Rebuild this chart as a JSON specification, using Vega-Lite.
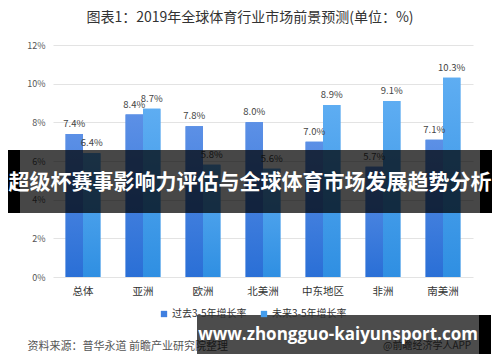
{
  "$schema": "https://vega.github.io/schema/vega-lite/v6.json",
  "width": 420,
  "height": 232,
  "autosize": {"type": "none"},
  "padding": {"left": 53, "top": 45, "right": 27, "bottom": 85},
  "background": "white",
  "config": {
    "font": "Noto Sans CJK SC",
    "view": {"stroke": null},
    "title": {"fontSize": 14, "fontWeight": "normal", "color": "#333333", "offset": 16, "dx": -13}
  },
  "title": "图表1：2019年全球体育行业市场前景预测(单位：%)",
  "data": {
    "values": [
      {"region": "总体", "series": "过去3-5年增长率", "value": 0.074},
      {"region": "总体", "series": "未来3-5年增长率", "value": 0.064},
      {"region": "亚洲", "series": "过去3-5年增长率", "value": 0.084},
      {"region": "亚洲", "series": "未来3-5年增长率", "value": 0.087},
      {"region": "欧洲", "series": "过去3-5年增长率", "value": 0.078},
      {"region": "欧洲", "series": "未来3-5年增长率", "value": 0.058},
      {"region": "北美洲", "series": "过去3-5年增长率", "value": 0.080},
      {"region": "北美洲", "series": "未来3-5年增长率", "value": 0.056},
      {"region": "中东地区", "series": "过去3-5年增长率", "value": 0.070},
      {"region": "中东地区", "series": "未来3-5年增长率", "value": 0.089},
      {"region": "非洲", "series": "过去3-5年增长率", "value": 0.057},
      {"region": "非洲", "series": "未来3-5年增长率", "value": 0.091},
      {"region": "南美洲", "series": "过去3-5年增长率", "value": 0.071},
      {"region": "南美洲", "series": "未来3-5年增长率", "value": 0.103}
    ]
  },
  "layer": [
    {
      "mark": {"type": "bar"},
      "encoding": {
        "x": {
          "field": "region", "type": "nominal", "sort": null,
          "scale": {"paddingInner": 0.42, "paddingOuter": 0.21},
          "axis": {
            "title": "资料来源：普华永道 前瞻产业研究院整理",
            "titleFontSize": 11, "titleFontWeight": "normal", "titleColor": "#555555",
            "titleX": -26, "titleY": 69, "titleAlign": "left", "titleAnchor": "start", "titleBaseline": "middle",
            "labelAngle": 0, "labelFontSize": 10.5, "labelColor": "#333333", "labelPadding": 9,
            "domain": false, "ticks": false
          }
        },
        "xOffset": {"field": "series", "type": "nominal", "scale": {"domain": ["过去3-5年增长率", "未来3-5年增长率"], "paddingInner": 0}},
        "y": {
          "field": "value", "type": "quantitative",
          "scale": {"domain": [0, 0.12], "nice": false},
          "axis": {
            "title": null, "values": [0, 0.02, 0.04, 0.06, 0.08, 0.1, 0.12], "tickCount": 7, "format": ".0%",
            "labelFontSize": 9, "labelColor": "#555555", "labelPadding": 8, "labelOverlap": false,
            "domain": false, "ticks": false, "gridColor": "#e3e3e3"
          }
        },
        "color": {
          "field": "series", "type": "nominal",
          "scale": {"domain": ["过去3-5年增长率", "未来3-5年增长率"], "range": ["#3f7fe0", "#449ded"]},
          "legend": {
            "title": null, "orient": "none", "legendX": 106, "legendY": 264, "direction": "horizontal",
            "symbolType": "square", "symbolSize": 40, "symbolStrokeWidth": 0,
            "labelFontSize": 10, "labelColor": "#333333", "columnPadding": 12, "labelOffset": 3
          }
        }
      }
    },
    {
      "transform": [{"filter": "datum.series === '过去3-5年增长率'"}],
      "mark": {"type": "bar", "fill": {"gradient": "linear", "x1": 0, "y1": 0, "x2": 0, "y2": 1, "stops": [{"offset": 0, "color": "#5c90e6"}, {"offset": 1, "color": "#2a6fd6"}]}},
      "encoding": {
        "x": {"field": "region", "type": "nominal", "sort": null},
        "xOffset": {"field": "series", "type": "nominal"},
        "y": {
          "field": "value", "type": "quantitative",
          "axis": {
            "title": null, "values": [0, 0.02, 0.04, 0.06, 0.08, 0.1, 0.12], "tickCount": 7, "format": ".0%",
            "labelFontSize": 9, "labelColor": "#555555", "labelPadding": 8, "labelOverlap": false,
            "domain": false, "ticks": false, "gridColor": "#e3e3e3"
          }
        }
      }
    },
    {
      "transform": [{"filter": "datum.series === '未来3-5年增长率'"}],
      "mark": {"type": "bar", "fill": {"gradient": "linear", "x1": 0, "y1": 0, "x2": 0, "y2": 1, "stops": [{"offset": 0, "color": "#5eadf2"}, {"offset": 1, "color": "#2f8fe2"}]}},
      "encoding": {
        "x": {"field": "region", "type": "nominal", "sort": null},
        "xOffset": {"field": "series", "type": "nominal"},
        "y": {
          "field": "value", "type": "quantitative",
          "axis": {
            "title": null, "values": [0, 0.02, 0.04, 0.06, 0.08, 0.1, 0.12], "tickCount": 7, "format": ".0%",
            "labelFontSize": 9, "labelColor": "#555555", "labelPadding": 8, "labelOverlap": false,
            "domain": false, "ticks": false, "gridColor": "#e3e3e3"
          }
        }
      }
    },
    {
      "mark": {"type": "text", "baseline": "bottom", "dy": -5, "fontSize": 9.5, "color": "#444444"},
      "encoding": {
        "x": {"field": "region", "type": "nominal", "sort": null},
        "xOffset": {"field": "series", "type": "nominal"},
        "y": {
          "field": "value", "type": "quantitative",
          "axis": {
            "title": null, "values": [0, 0.02, 0.04, 0.06, 0.08, 0.1, 0.12], "tickCount": 7, "format": ".0%",
            "labelFontSize": 9, "labelColor": "#555555", "labelPadding": 8, "labelOverlap": false,
            "domain": false, "ticks": false, "gridColor": "#e3e3e3"
          }
        },
        "text": {"field": "value", "type": "quantitative", "format": ".1%"}
      }
    },
    {
      "data": {"values": [{"t": "@前瞻经济学人APP"}]},
      "mark": {"type": "text", "align": "left", "baseline": "middle", "fontSize": 10, "color": "#555555"},
      "encoding": {"text": {"field": "t"}, "x": {"value": 330}, "y": {"value": 301}}
    },
    {
      "data": {"values": [{"t": "banner"}]},
      "mark": {"type": "rect", "color": "black", "opacity": 0.72},
      "encoding": {"x": {"value": -45}, "x2": {"value": 439}, "y": {"value": 105}, "y2": {"value": 168}}
    },
    {
      "data": {"values": [{"t": "banner"}]},
      "mark": {"type": "rect", "color": "black", "opacity": 1},
      "encoding": {"x": {"value": -45}, "x2": {"value": -33}, "y": {"value": 105}, "y2": {"value": 168}}
    },
    {
      "data": {"values": [{"t": "banner"}]},
      "mark": {"type": "rect", "color": "black", "opacity": 1},
      "encoding": {"x": {"value": 427}, "x2": {"value": 439}, "y": {"value": 105}, "y2": {"value": 168}}
    },
    {
      "data": {"values": [{"t": "超级杯赛事影响力评估与全球体育市场发展趋势分析"}]},
      "mark": {"type": "text", "align": "center", "baseline": "middle", "fontSize": 21, "fontWeight": "bold", "color": "white"},
      "encoding": {"text": {"field": "t"}, "x": {"value": 197}, "y": {"value": 138}}
    },
    {
      "data": {"values": [{"t": "banner"}]},
      "mark": {"type": "rect", "color": "black", "opacity": 0.7},
      "encoding": {"x": {"value": 144}, "x2": {"value": 438}, "y": {"value": 270}, "y2": {"value": 309}}
    },
    {
      "data": {"values": [{"t": "banner"}]},
      "mark": {"type": "rect", "color": "black", "opacity": 1},
      "encoding": {"x": {"value": 426}, "x2": {"value": 438}, "y": {"value": 270}, "y2": {"value": 309}}
    },
    {
      "data": {"values": [{"t": "www.zhongguo-kaiyunsport.com"}]},
      "mark": {"type": "text", "align": "center", "baseline": "middle", "fontSize": 17, "fontWeight": "bold", "font": "Open Sans", "color": "white"},
      "encoding": {"text": {"field": "t"}, "x": {"value": 285}, "y": {"value": 290}}
    }
  ]
}
